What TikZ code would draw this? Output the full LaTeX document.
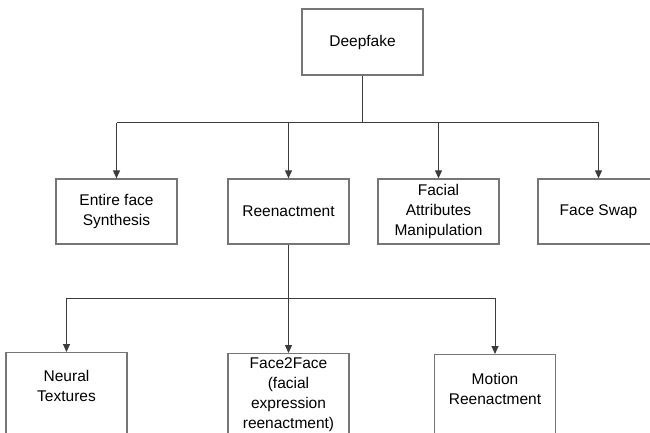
\documentclass[tikz,border=0pt]{standalone}
\usepackage{fontspec}
\setmainfont{Liberation Sans}
\usepackage{tikz}
\usetikzlibrary{arrows.meta}
\definecolor{boxgray}{HTML}{767676}
\definecolor{linegray}{HTML}{3C3C3C}
\tikzset{tree box/.style={draw=boxgray,line width=1.3pt,fill=white,minimum width=121pt,align=center,inner xsep=2pt,font=\fontsize{15.5}{20}\selectfont}}
\tikzset{leaf box/.style={tree box,anchor=north,text depth=60pt}}
\tikzset{tree line/.style={draw=linegray,line width=1pt}}
\tikzset{tree arrow/.style={tree line,-{Triangle[width=7pt,length=8pt]}}}

\begin{document}
\begin{tikzpicture}[x=1pt,y=-1pt]

            \def \busTopY{123}
            \def \busLowY{298}

            \useasboundingbox (0,0) rectangle (650,433);
            \fill[white] (0,0) rectangle (650,433);
            \clip (0,0) rectangle (650,433);

            \node[tree box, minimum height=66pt] (deepfake)   at (362.5, 42)   {Deepfake};

            \node[tree box, minimum height=65pt] (synthesis)  at (116.5, 211.5) {Entire face\\Synthesis};
            \node[tree box, minimum height=65pt] (reenact)    at (288.5, 211.5) {Reenactment};
            \node[tree box, minimum height=65pt] (attributes) at (438.5, 211.5) {Facial\\Attributes\\Manipulation};
            \node[tree box, minimum height=65pt] (swap)       at (598.5, 211.5) {Face Swap};

            \node[leaf box, inner ysep=18pt] (neural)     at (66.5, 352)  {Neural\\Textures};
            \node[leaf box, inner ysep=4pt]  (facetoface) at (288.5, 353) {Face2Face\\(facial\\expression\\reenactment)};
            \node[leaf box, inner ysep=19pt] (motion)     at (495, 354)   {Motion\\Reenactment};

            \coordinate (top bus) at (362.5, \busTopY);
            \coordinate (low bus) at (288.5, \busLowY);

            \draw[tree line] (deepfake.south) -- (top bus);
            \draw[tree line] (top bus -| synthesis.north) -- (top bus -| swap.north);
            \foreach \child in {synthesis, reenact, attributes, swap}
              \draw[tree arrow] (top bus -| \child.north) -- (\child.north);

            \draw[tree line] (reenact.south) -- (low bus);
            \draw[tree line] (low bus -| neural.north) -- (low bus -| motion.north);
            \foreach \child in {neural, facetoface, motion}
              \draw[tree arrow] (low bus -| \child.north) -- (\child.north);

          \end{tikzpicture}
\end{document}
